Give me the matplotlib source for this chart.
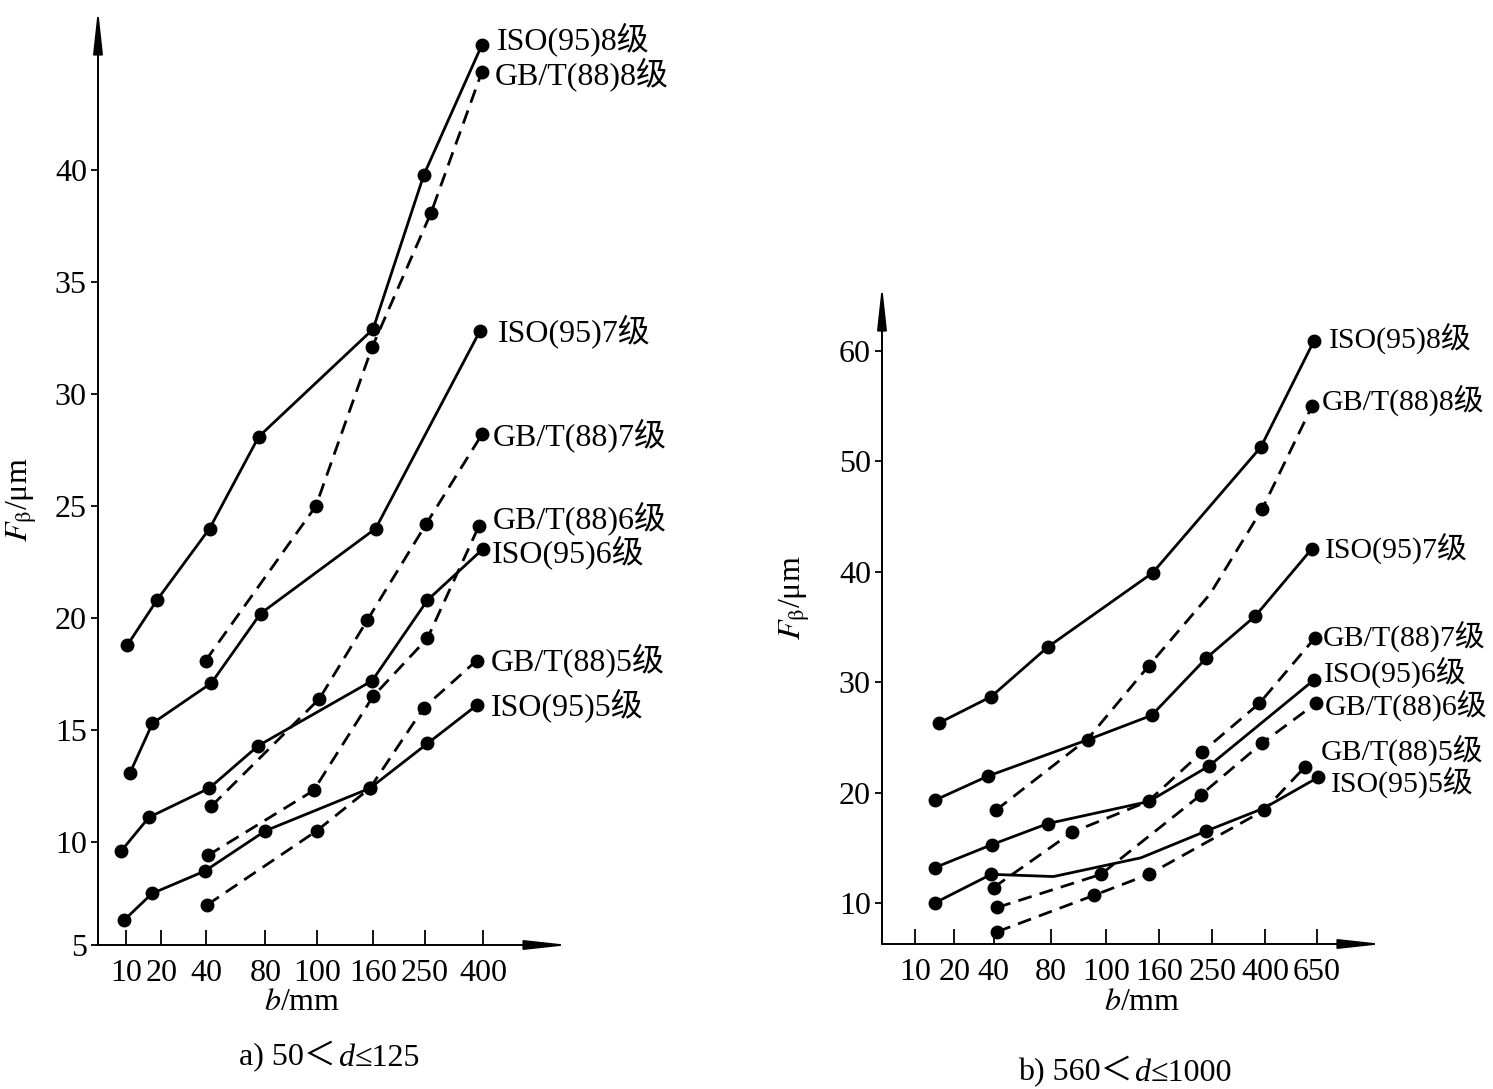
import matplotlib.pyplot as plt
from matplotlib.patches import ArrowStyle
from matplotlib.offsetbox import TextArea, HPacker, AnnotationBbox

plt.rcParams['font.family'] = ['Liberation Serif', 'Noto Sans CJK SC', 'DejaVu Serif']
plt.rcParams['mathtext.fontset'] = 'stix'

# ---- panel a) 50<d<=125 ----
a_ticks = ['10', '20', '40', '80', '100', '160', '250', '400']
a_tick_pos = [0, 0.79, 1.80, 3.12, 4.27, 5.53, 6.69, 8.0]
a_yticks = [10, 15, 20, 25, 30, 35, 40]

a_iso8_x = [0.03, 0.69, 1.87, 2.97, 5.53, 6.67, 7.97]
a_iso8_y = [18.8, 20.8, 24.0, 28.1, 32.9, 39.8, 45.6]
a_gb8_x = [1.78, 4.25, 5.51, 6.83, 7.97]
a_gb8_y = [18.1, 25.0, 32.1, 38.1, 44.4]
a_iso7_x = [0.09, 0.59, 1.91, 3.01, 5.59, 7.92]
a_iso7_y = [13.1, 15.3, 17.1, 20.2, 24.0, 32.8]
a_gb7_x = [1.91, 4.33, 5.40, 6.72, 7.97]
a_gb7_y = [11.6, 16.4, 19.9, 24.2, 28.2]
a_iso6_x = [-0.11, 0.51, 1.86, 2.96, 5.51, 6.75, 8.0]
a_iso6_y = [9.6, 11.1, 12.4, 14.3, 17.2, 20.8, 23.1]
a_gb6_x = [1.83, 4.20, 5.53, 6.75, 7.90]
a_gb6_y = [9.4, 12.3, 16.5, 19.1, 24.1]
a_iso5_x = [-0.05, 0.58, 1.76, 3.12, 5.46, 6.75, 7.85]
a_iso5_y = [6.5, 7.7, 8.7, 10.5, 12.4, 14.4, 16.1]
a_gb5_x = [1.82, 4.27, 5.46, 6.67, 7.85]
a_gb5_y = [7.2, 10.5, 12.4, 16.0, 18.1]

# ---- panel b) 560<d<=1000 ----
b_ticks = ['10', '20', '40', '80', '100', '160', '250', '400', '650']
b_tick_pos = [0, 0.85, 1.70, 2.95, 4.15, 5.30, 6.45, 7.60, 8.72]
b_yticks = [10, 20, 30, 40, 50, 60]

b_iso8_x = [0.51, 1.65, 2.88, 5.15, 7.50, 8.65]
b_iso8_y = [26.3, 28.7, 33.2, 39.9, 51.3, 60.9]
b_gb8_x = [1.75, 3.75, 5.07, 6.40, 7.53, 8.61]
b_gb8_y = [18.4, 24.9, 31.5, 38.0, 45.7, 55.0]
b_iso7_x = [0.42, 1.58, 3.75, 5.13, 6.32, 7.38, 8.61]
b_iso7_y = [19.3, 21.5, 24.8, 27.0, 32.2, 36.0, 42.1]
b_gb7_x = [1.70, 3.40, 5.05, 6.23, 7.47, 8.67]
b_gb7_y = [11.4, 16.4, 19.2, 23.7, 28.1, 34.0]
b_iso6_x = [0.42, 1.67, 2.88, 5.07, 6.37, 8.65]
b_iso6_y = [13.2, 15.3, 17.2, 19.2, 22.4, 30.2]
b_gb6_x = [1.78, 4.03, 6.20, 7.53, 8.70]
b_gb6_y = [9.6, 12.6, 19.8, 24.5, 28.1]
b_iso5_x = [0.42, 1.65, 3.00, 4.90, 6.30, 7.57, 8.75]
b_iso5_y = [10.0, 12.6, 12.4, 14.1, 16.5, 18.6, 21.4]
b_gb5_x = [1.78, 3.88, 5.07, 7.57, 8.45]
b_gb5_y = [7.4, 10.7, 12.6, 18.4, 22.3]

FS = 23
PX = 0.72  # points per pixel at dpi 100

fig = plt.figure(figsize=(14.93, 10.89), dpi=100)


def draw_series(ax, x, y, dashed, label, off, marks=None, fs=FS):
    ls = (0, (5, 3)) if dashed else '-'
    ax.plot(x, y, color='black', lw=2.0, ls=ls, marker='o', ms=9,
            markevery=marks, clip_on=False, zorder=3)
    ax.annotate(label, xy=(x[-1], y[-1]), xytext=(off[0] * PX, off[1] * PX),
                textcoords='offset points', ha='left', va='center',
                fontsize=fs, annotation_clip=False)


def setup_axes(ax, ticks, tick_pos, yticks, xlim, ylim, bottom_label=None):
    ax.set_xlim(*xlim)
    ax.set_ylim(*ylim)
    for s in ax.spines.values():
        s.set_visible(False)
    head = ArrowStyle('-|>', head_length=1.1, head_width=0.12)
    for end in [(0, 1), (1, 0)]:
        ax.annotate('', xy=end, xytext=(0, 0), xycoords='axes fraction',
                    arrowprops=dict(arrowstyle=head, lw=1.4, color='black',
                                    mutation_scale=24, shrinkA=0, shrinkB=0))
    ax.set_xticks(tick_pos)
    ax.set_xticklabels(ticks, fontsize=FS)
    ax.tick_params(axis='x', direction='in', length=11, width=1.3, pad=10)
    if bottom_label is not None:
        ax.set_yticks([ylim[0]] + yticks)
        ax.set_yticklabels([bottom_label] + [str(v) for v in yticks], fontsize=FS)
    else:
        ax.set_yticks(yticks)
        ax.set_yticklabels([str(v) for v in yticks], fontsize=FS)
    ax.tick_params(axis='y', direction='out', length=5, width=1.3, pad=3)
    ax.patch.set_visible(False)


def caption(x, y, before, var, after):
    parts = [TextArea(before, textprops=dict(fontsize=FS)),
             TextArea(var, textprops=dict(fontsize=FS, style='italic')),
             TextArea(after, textprops=dict(fontsize=FS))]
    box = HPacker(children=parts, pad=0, sep=1, align='baseline')
    ab = AnnotationBbox(box, (x / 1493, 1 - y / 1089), xycoords='figure fraction',
                        frameon=False, box_alignment=(0.5, 0.5))
    fig.add_artist(ab)


# panel a
ax1 = fig.add_axes([98 / 1493, 1 - 945 / 1089, 471 / 1493, 936 / 1089])
setup_axes(ax1, a_ticks, a_tick_pos, a_yticks, (-0.63, 9.92), (5.4, 47.2), bottom_label='5')
draw_series(ax1, a_iso8_x, a_iso8_y, False, 'ISO(95)8级', (15, 6))
draw_series(ax1, a_gb8_x, a_gb8_y, True, 'GB/T(88)8级', (13, -3))
draw_series(ax1, a_iso7_x, a_iso7_y, False, 'ISO(95)7级', (18, 0))
draw_series(ax1, a_gb7_x, a_gb7_y, True, 'GB/T(88)7级', (11, -1))
draw_series(ax1, a_iso6_x, a_iso6_y, False, 'ISO(95)6级', (9, -4))
draw_series(ax1, a_gb6_x, a_gb6_y, True, 'GB/T(88)6级', (14, 8))
draw_series(ax1, a_iso5_x, a_iso5_y, False, 'ISO(95)5级', (14, 0))
draw_series(ax1, a_gb5_x, a_gb5_y, True, 'GB/T(88)5级', (14, 0))

# panel b
FB = 21.5
ax2 = fig.add_axes([882 / 1493, 1 - 944 / 1089, 501 / 1493, 659 / 1089])
setup_axes(ax2, b_ticks, b_tick_pos, b_yticks, (-0.72, 10.15), (6.29, 65.98))
draw_series(ax2, b_iso8_x, b_iso8_y, False, 'ISO(95)8级', (15, 3), fs=FB)
draw_series(ax2, b_gb8_x, b_gb8_y, True, 'GB/T(88)8级', (10, 6), marks=[0, 2, 4, 5], fs=FB)
draw_series(ax2, b_iso7_x, b_iso7_y, False, 'ISO(95)7级', (13, 0), fs=FB)
draw_series(ax2, b_gb7_x, b_gb7_y, True, 'GB/T(88)7级', (8, 2), marks=[0, 1, 3, 4, 5], fs=FB)
draw_series(ax2, b_iso6_x, b_iso6_y, False, 'ISO(95)6级', (10, 8), fs=FB)
draw_series(ax2, b_gb6_x, b_gb6_y, True, 'GB/T(88)6级', (9, -2), fs=FB)
draw_series(ax2, b_iso5_x, b_iso5_y, False, 'ISO(95)5级', (12, -5), marks=[0, 1, 4, 6], fs=FB)
draw_series(ax2, b_gb5_x, b_gb5_y, True, 'GB/T(88)5级', (16, 17), fs=FB)

# axis titles and captions
ylab = r'$F_{\mathrm{\beta}}$/μm'
fig.text(22 / 1493, 1 - 500 / 1089, ylab, rotation=90, ha='center', va='center', fontsize=FS)
fig.text(795 / 1493, 1 - 598 / 1089, ylab, rotation=90, ha='center', va='center', fontsize=FS)
fig.text(302 / 1493, 1 - 1003 / 1089, r'$b$/mm', ha='center', va='center', fontsize=FS)
fig.text(1142 / 1493, 1 - 1003 / 1089, r'$b$/mm', ha='center', va='center', fontsize=FS)
caption(330, 1057, 'a) 50＜', 'd', '≤125')
caption(1125, 1072, 'b) 560＜', 'd', '≤1000')

fig.savefig('out.png', dpi=100)
